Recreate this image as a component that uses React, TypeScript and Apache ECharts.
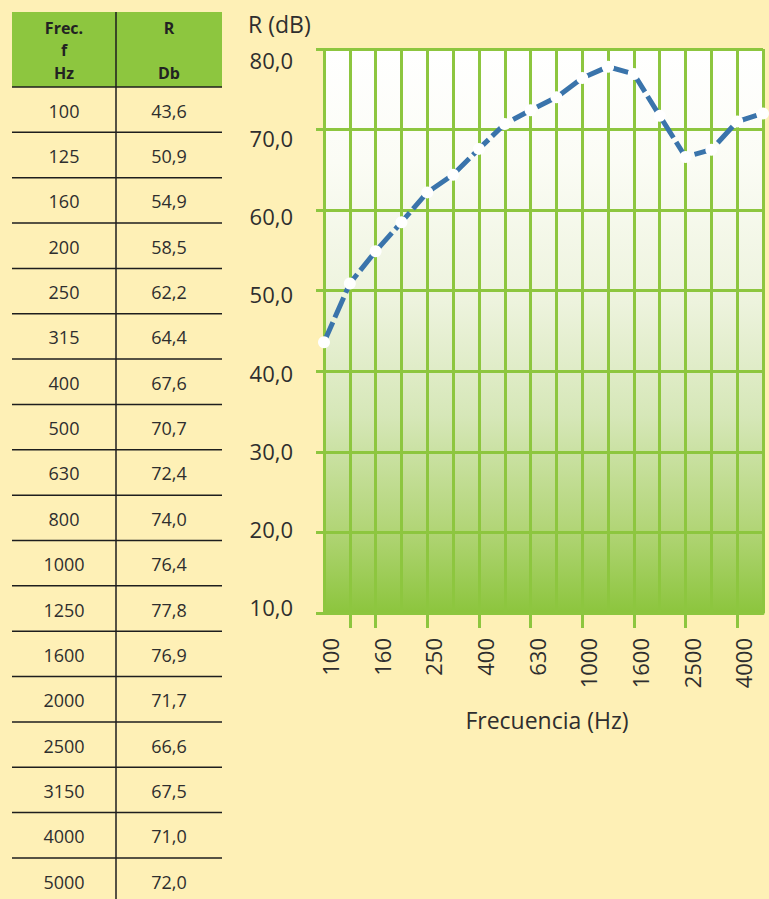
import React, { useEffect, useRef } from "react";
import * as echarts from "echarts";

const frequencies: number[] = [100, 125, 160, 200, 250, 315, 400, 500, 630, 800, 1000, 1250, 1600, 2000, 2500, 3150, 4000, 5000];
const rValues: number[] = [43.6, 50.9, 54.9, 58.5, 62.2, 64.4, 67.6, 70.7, 72.4, 74.0, 76.4, 77.8, 76.9, 71.7, 66.6, 67.5, 71.0, 72.0];
const yTickValues: number[] = [10, 20, 30, 40, 50, 60, 70, 80];
const headerCol1: string[] = ["Frec.", "f", "Hz"];
const headerCol2: string[] = ["R", "", "Db"];

const BG = "#fef0b6";
const GREEN = "#8dc63f";
const TEXT = "#2e2e2e";
const FONT = "'Open Sans', 'Noto Sans', sans-serif";

const fmt = (v: number) => v.toFixed(1).replace(".", ",");

export default function App() {
  const ref = useRef<HTMLDivElement>(null);

  useEffect(() => {
    if (!ref.current) return;
    const chart = echarts.init(ref.current, undefined, { renderer: "svg" });

    // table graphics
    const tLeft = 12, tRight = 222, tTop = 12, headBottom = 87, colX = 116, rowH = 45.35;
    const c1 = (tLeft + colX) / 2, c2 = (colX + tRight) / 2;
    const graphics: any[] = [];
    graphics.push({ type: "rect", shape: { x: tLeft, y: tTop, width: tRight - tLeft, height: headBottom - tTop }, style: { fill: GREEN }, silent: true });
    const headYs = [28, 50, 73];
    const headStyle = (t: string) => ({ text: t, fill: "#222", font: `bold 16px ${FONT}`, align: "center", verticalAlign: "middle", lineHeight: 16 });
    headerCol1.forEach((t, i) => {
      if (t) graphics.push({ type: "text", x: c1, y: headYs[i], style: headStyle(t) });
    });
    headerCol2.forEach((t, i) => {
      if (t) graphics.push({ type: "text", x: c2, y: headYs[i], style: headStyle(t) });
    });
    graphics.push({ type: "line", shape: { x1: colX, y1: tTop, x2: colX, y2: 899 }, style: { stroke: "#1e1e1e", lineWidth: 1.5 } });
    frequencies.forEach((f, i) => {
      const yTop = headBottom + i * rowH;
      graphics.push({ type: "line", shape: { x1: tLeft, y1: yTop, x2: tRight, y2: yTop }, style: { stroke: "#1e1e1e", lineWidth: 1.5 } });
      const yc = yTop + rowH / 2 + 1;
      graphics.push({ type: "text", x: c1, y: yc, style: { text: String(f), fill: TEXT, font: `18px ${FONT}`, align: "center", verticalAlign: "middle" } });
      graphics.push({ type: "text", x: c2, y: yc, style: { text: fmt(rValues[i]), fill: TEXT, font: `18px ${FONT}`, align: "center", verticalAlign: "middle" } });
    });
    graphics.push({ type: "text", x: 248, y: 24, style: { text: "R (dB)", fill: TEXT, font: `23px ${FONT}`, align: "left", verticalAlign: "middle" } });
    graphics.push({ type: "text", x: 547, y: 720, style: { text: "Frecuencia (Hz)", fill: TEXT, font: `23px ${FONT}`, align: "center", verticalAlign: "middle" } });

    const option: any = {
      animation: false,
      backgroundColor: BG,
      grid: {
        left: 324,
        right: 6,
        top: 49,
        bottom: 286,
        containLabel: false,
        show: true,
        borderWidth: 0,
        backgroundColor: new echarts.graphic.LinearGradient(0, 0, 0, 1, [
          { offset: 0, color: "#ffffff" },
          { offset: 0.2, color: "#fbfcf5" },
          { offset: 0.45, color: "#edf3dd" },
          { offset: 0.65, color: "#d6e7b8" },
          { offset: 0.85, color: "#b2d577" },
          { offset: 1, color: "#8cc53d" },
        ]),
      },
      graphic: graphics,
      xAxis: {
        type: "category",
        data: frequencies.map(String),
        boundaryGap: false,
        axisLine: { show: true, lineStyle: { color: GREEN, width: 3 } },
        axisTick: {
          show: true,
          length: 15,
          interval: (index: number) => index === 1 || (index > 0 && index <= 16 && index % 2 === 0),
          lineStyle: { color: GREEN, width: 3 },
        },
        splitLine: { show: true, interval: 0, lineStyle: { color: GREEN, width: 3 } },
        axisLabel: {
          interval: (index: number) => index % 2 === 0 && index <= 16,
          rotate: 90,
          margin: 25,
          color: TEXT,
          fontSize: 22,
          fontFamily: FONT,
          verticalAlign: "top",
          lineHeight: 12,
        },
      },
      yAxis: [
        {
          type: "value",
          min: 10,
          max: 80,
          interval: 10,
          axisLine: { show: false },
          axisTick: { show: true, length: 8, lineStyle: { color: GREEN, width: 3 } },
          splitLine: { show: true, lineStyle: { color: GREEN, width: 3 } },
          axisLabel: { show: false },
        },
        {
          type: "value",
          position: "left",
          min: 9.23,
          max: 81.41,
          axisLine: { show: false },
          axisTick: { show: false },
          splitLine: { show: false },
          axisLabel: {
            show: true,
            customValues: yTickValues,
            formatter: (v: number) => fmt(v),
            margin: 31,
            color: TEXT,
            fontSize: 22,
            fontFamily: FONT,
          },
        },
      ],
      series: [
        {
          type: "line",
          data: rValues,
          yAxisIndex: 0,
          symbol: "circle",
          symbolSize: 12,
          itemStyle: { color: "#ffffff", borderWidth: 0 },
          lineStyle: { color: "#3a74ab", width: 5, type: [22, 5] },
          z: 5,
        },
      ],
    };
    chart.setOption(option);
    return () => chart.dispose();
  }, []);

  return (
    <div
      ref={ref}
      style={{ position: "fixed", left: 0, top: 0, width: 769, height: 899, background: BG }}
    />
  );
}
